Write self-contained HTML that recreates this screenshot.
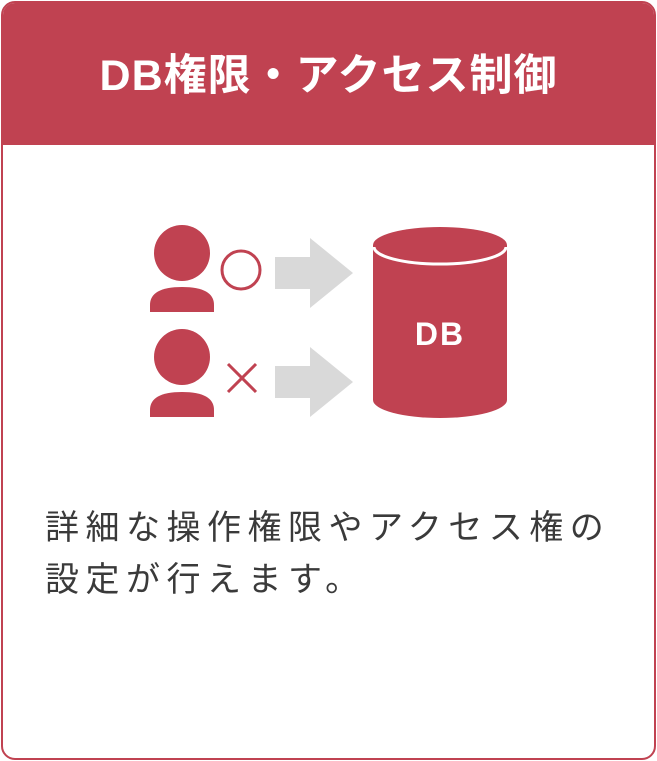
<!DOCTYPE html>
<html><head><meta charset="utf-8"><style>
html,body{margin:0;padding:0;background:#fff;}
body{width:657px;height:761px;position:relative;overflow:hidden;}
.card{position:absolute;left:1px;top:1px;width:651px;height:755px;border:2px solid #c04251;border-radius:14px;overflow:hidden;background:#fff;}
.hd{position:absolute;left:0;top:0;width:100%;height:142px;background:#c04251;}
.title{position:absolute;left:0;width:657px;top:48px;text-align:center;color:#fff;font:bold 43px "Liberation Sans","Noto Sans CJK JP",sans-serif;letter-spacing:1px;line-height:56px;}
.txt{position:absolute;left:45px;top:502px;color:#3a3a3a;font:34px "Liberation Sans","Noto Sans CJK JP",sans-serif;letter-spacing:6.5px;line-height:52px;white-space:nowrap;}
svg{position:absolute;left:0;top:0;}
</style></head><body>
<div class="card"><div class="hd"></div></div>
<div class="title">DB権限・アクセス制御</div>
<svg width="657" height="761">
<g fill="#c04251">
<circle cx="182" cy="253" r="28"/>
<path d="M150 312 L150 305 Q150 287 182 287 Q214 287 214 305 L214 312 Z"/>
<circle cx="182" cy="357" r="28"/>
<path d="M150 417 L150 410 Q150 392 182 392 Q214 392 214 410 L214 417 Z"/>
<path d="M373 245 L373 400 A67 18 0 0 0 507 400 L507 245 Z"/>
<ellipse cx="440" cy="245" rx="67" ry="18"/>
</g>
<path d="M374 247 A66 17 0 0 0 506 247" fill="none" stroke="#fff" stroke-width="3"/>
<text x="440" y="345" text-anchor="middle" fill="#fff" font-family="Liberation Sans, sans-serif" font-weight="bold" font-size="32" letter-spacing="2">DB</text>
<circle cx="241" cy="270" r="19" fill="none" stroke="#c04251" stroke-width="3"/>
<path d="M228 364 L256 392 M256 364 L228 392" stroke="#c04251" stroke-width="3"/>
<path d="M275 257 L310 257 L310 238 L353 273 L310 308 L310 289 L275 289 Z" fill="#d9d9d9"/>
<path d="M275 366 L310 366 L310 347 L353 382 L310 417 L310 398 L275 398 Z" fill="#d9d9d9"/>
</svg>
<div class="txt">詳細な操作権限やアクセス権の<br>設定が行えます。</div>
</body></html>
